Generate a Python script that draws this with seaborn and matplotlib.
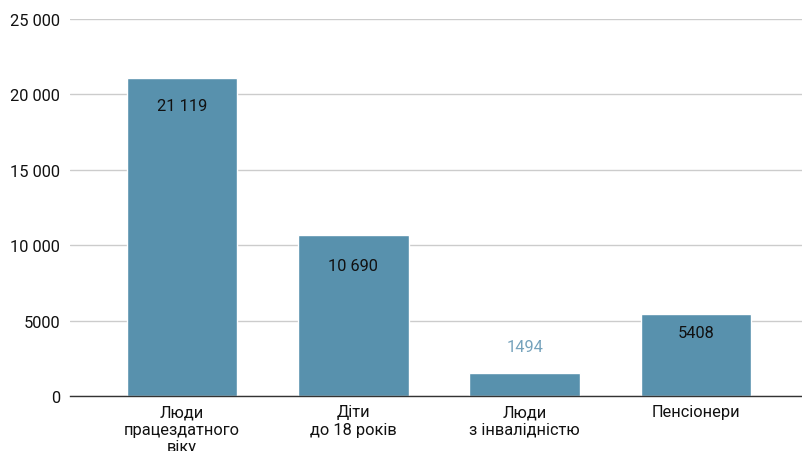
import matplotlib
matplotlib.use("Agg")
import matplotlib.pyplot as plt
import seaborn as sns
import pandas as pd
from matplotlib.ticker import FuncFormatter

categories = ["Люди\nпрацездатного\nвіку", "Діти\nдо 18 років", "Люди\nз інвалідністю", "Пенсіонери"]
values = [21119, 10690, 1494, 5408]
value_labels = ["21 119", "10 690", "1494", "5408"]
y_ticks = [0, 5000, 10000, 15000, 20000, 25000]

sns.set_theme(style="white")
plt.rcParams["font.family"] = ["Roboto", "DejaVu Sans"]

df = pd.DataFrame({"cat": categories, "val": values})

fig = plt.figure(figsize=(8.02, 4.52), dpi=100)
ax = fig.add_axes([70 / 802, 1 - 397 / 452, 1 - 70 / 802, (397 - 20) / 452])

sns.barplot(data=df, x="cat", y="val", color="#5891ad", saturation=1, width=0.645, ax=ax)

ax.set_ylim(0, 25000)
ax.set_xlim(-0.655, 3.62)
ax.set_yticks(y_ticks)
ax.yaxis.set_major_formatter(FuncFormatter(lambda v, p: "5000" if v == 5000 else ("0" if v == 0 else f"{int(v):,}".replace(",", " "))))
ax.grid(axis="y", color="#cccccc", linewidth=1)
ax.set_axisbelow(True)
for s in ["top", "right", "left"]:
    ax.spines[s].set_visible(False)
ax.spines["bottom"].set_color("#333333")
ax.spines["bottom"].set_linewidth(1)
ax.set_xlabel("")
ax.set_ylabel("")
ax.tick_params(axis="y", length=0, pad=7, labelsize=11.8, labelcolor="#111111")
ax.tick_params(axis="x", length=0, pad=6, labelsize=11.8, labelcolor="#111111")
for lbl in ax.get_xticklabels():
    lbl.set_linespacing(1.2)

offsets = [-28, -31, 27, -18]
colors = ["#111111", "#111111", "#76a3bc", "#111111"]
for i, (v, t) in enumerate(zip(values, value_labels)):
    ax.annotate(t, (i, v), xytext=(0, offsets[i] * 0.72), textcoords="offset points",
                ha="center", va="center", fontsize=11.8, color=colors[i])

fig.savefig("out.png", dpi=100)
